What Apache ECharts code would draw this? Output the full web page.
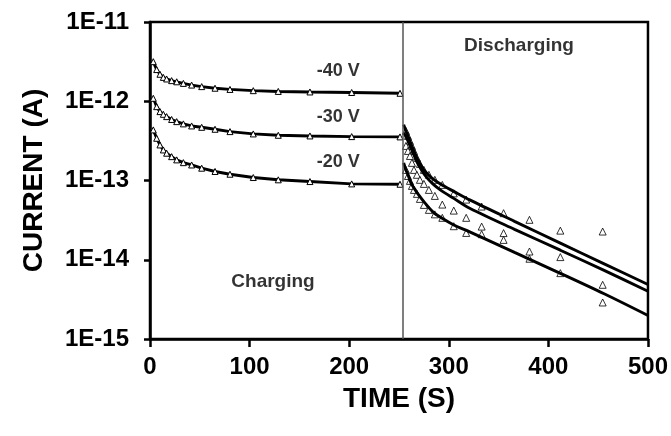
<!DOCTYPE html>
<html><head><meta charset="utf-8">
<script src="https://cdn.jsdelivr.net/npm/echarts@6/dist/echarts.min.js"></script>
<style>html,body{margin:0;padding:0;background:#fff}#c{width:671px;height:436px}</style>
</head><body><div id="c"></div>
<script>
// ---- data (time in s, current in A) ----
const chargeT = [3.3, 6.7, 10, 13.4, 16.7, 21.7, 26.8, 33.5, 41.8, 51.9, 65.3, 80.3, 103.7, 128.8, 160.6, 202.5, 251];
const charge40 = [3.16e-12, 2.51e-12, 2.19e-12, 2.00e-12, 1.91e-12, 1.82e-12, 1.76e-12, 1.68e-12, 1.60e-12, 1.53e-12, 1.46e-12, 1.41e-12, 1.36e-12, 1.33e-12, 1.31e-12, 1.29e-12, 1.26e-12];
const charge30 = [1.09e-12, 8.55e-13, 7.40e-13, 6.84e-13, 6.40e-13, 5.89e-13, 5.53e-13, 5.18e-13, 4.88e-13, 4.69e-13, 4.43e-13, 4.14e-13, 3.87e-13, 3.72e-13, 3.65e-13, 3.58e-13, 3.55e-13];
const charge20 = [4.35e-13, 3.41e-13, 2.81e-13, 2.43e-13, 2.21e-13, 2.00e-13, 1.82e-13, 1.68e-13, 1.57e-13, 1.43e-13, 1.30e-13, 1.20e-13, 1.09e-13, 1.02e-13, 9.70e-14, 9.06e-14, 8.97e-14];

const fitT = [254.7, 257, 259, 262, 265, 269, 276, 284, 292.5, 305, 321, 366, 412, 456, 500];
const fit40 = [5.07e-13, 4.22e-13, 3.65e-13, 2.89e-13, 2.36e-13, 1.82e-13, 1.31e-13, 1.05e-13, 8.88e-14, 7.29e-14, 5.69e-14, 3.05e-14, 1.62e-14, 8.88e-15, 4.87e-15];
const fit30 = [4.02e-13, 3.55e-13, 3.16e-13, 2.58e-13, 2.10e-13, 1.62e-13, 1.17e-13, 9.06e-14, 7.46e-14, 5.95e-14, 4.47e-14, 2.42e-14, 1.32e-14, 7.35e-15, 4.01e-15];
const fit20 = [1.67e-13, 1.36e-13, 1.18e-13, 9.33e-14, 8.07e-14, 6.78e-14, 5.22e-14, 4.02e-14, 3.38e-14, 2.75e-14, 2.25e-14, 1.24e-14, 6.74e-15, 3.72e-15, 1.98e-15];

const disT = [257, 259, 261, 263, 265, 268, 271, 275, 280, 286, 293.5, 305, 317.5, 333, 355, 381, 412, 454.5];
const dis40 = [4.22e-13, 3.65e-13, 3.16e-13, 2.73e-13, 2.36e-13, 1.93e-13, 1.62e-13, 1.36e-13, 1.18e-13, 1.02e-13, 8.80e-14, 6.88e-14, 5.74e-14, 4.69e-14, 3.87e-14, 3.19e-14, 2.33e-14, 2.27e-14];
const dis30 = [2.73e-13, 2.36e-13, 2.04e-13, 1.67e-13, 1.36e-13, 1.18e-13, 1.02e-13, 9.06e-14, 7.61e-14, 6.39e-14, 4.97e-14, 4.17e-14, 3.38e-14, 2.62e-14, 2.17e-14, 1.27e-14, 1.08e-14, 4.83e-15];
const dis20 = [1.36e-13, 1.14e-13, 9.89e-14, 8.55e-14, 7.61e-14, 6.78e-14, 5.86e-14, 4.92e-14, 4.26e-14, 3.74e-14, 3.38e-14, 2.65e-14, 2.18e-14, 2.10e-14, 1.78e-14, 1.03e-14, 6.78e-15, 2.89e-15];

const switchTime = 254;
const xTicks = [0, 100, 200, 300, 400, 500];
const yTicks = [1e-15, 1e-14, 1e-13, 1e-12, 1e-11];
const annotations = [
  {text: '-40 V', t: 189, v: 2.38e-12, size: 18},
  {text: '-30 V', t: 189, v: 6.25e-13, size: 18},
  {text: '-20 V', t: 189, v: 1.72e-13, size: 18},
  {text: 'Charging', t: 123.5, v: 5.26e-15, size: 19},
  {text: 'Discharging', t: 370.5, v: 4.98e-12, size: 19}
];

const FONT = '"Liberation Sans", Arial, sans-serif';
const zip = (xs, ys) => xs.map((x, i) => [x, ys[i]]);

const markerStyle = {color: '#fff', borderColor: '#000', borderWidth: 1};
function chargeSeries(vals) {
  return {type: 'line', data: zip(chargeT, vals), symbol: 'triangle', symbolSize: 6, showAllSymbol: true,
    itemStyle: markerStyle, lineStyle: {color: '#000', width: 2.9}, z: 3, silent: true};
}
function fitSeries(vals) {
  return {type: 'line', data: zip(fitT, vals), symbol: 'none', smooth: 0.3,
    lineStyle: {color: '#000', width: 2.9}, z: 3, silent: true};
}
function disSeries(vals) {
  return {type: 'scatter', data: zip(disT, vals), symbol: 'triangle', symbolSize: 7,
    itemStyle: markerStyle, z: 2, silent: true};
}

const chart = echarts.init(document.getElementById('c'), null, {renderer: 'canvas'});
const series = [
  chargeSeries(charge40), chargeSeries(charge30), chargeSeries(charge20),
  disSeries(dis40), disSeries(dis30), disSeries(dis20),
  fitSeries(fit40), fitSeries(fit30), fitSeries(fit20),
  {type: 'scatter', data: annotations.map(a => ({value: [a.t, a.v], label: {formatter: a.text, fontSize: a.size}})),
   symbolSize: 0, silent: true, z: 5,
   label: {show: true, position: 'inside', color: '#000', fontFamily: FONT, fontWeight: 'bold'},
   markLine: {silent: true, symbol: 'none', label: {show: false},
     lineStyle: {color: '#555', width: 1.5, type: 'solid'}, data: [{xAxis: switchTime}]}}
];

chart.setOption({
  animation: false,
  backgroundColor: '#fff',
  grid: {left: 150, right: 23, top: 22, bottom: 97, show: true, borderColor: '#000', borderWidth: 2.5, backgroundColor: 'transparent'},
  xAxis: {
    type: 'value', min: xTicks[0], max: xTicks[xTicks.length - 1], interval: 100,
    name: 'TIME (S)', nameLocation: 'middle', nameGap: 46,
    nameTextStyle: {fontFamily: FONT, fontWeight: 'bold', fontSize: 28, color: '#000'},
    axisLine: {lineStyle: {color: '#000', width: 2.5}},
    axisTick: {length: 8, lineStyle: {color: '#000', width: 2.5}},
    axisLabel: {margin: 16, fontFamily: FONT, fontWeight: 'bold', fontSize: 24, color: '#000'},
    splitLine: {show: false}
  },
  yAxis: {
    type: 'log', logBase: 10, min: yTicks[0], max: yTicks[yTicks.length - 1],
    name: 'CURRENT (A)', nameLocation: 'middle', nameGap: 102, nameRotate: 90,
    nameTextStyle: {fontFamily: FONT, fontWeight: 'bold', fontSize: 28, color: '#000'},
    axisLine: {lineStyle: {color: '#000', width: 2.5}},
    axisTick: {length: 6, lineStyle: {color: '#000', width: 2.5}},
    axisLabel: {margin: 21, fontFamily: FONT, fontWeight: 'bold', fontSize: 24, color: '#000',
      formatter: v => '1E' + Math.round(Math.log10(v))},
    splitLine: {show: false}, minorTick: {show: false}
  },
  series: series
});
</script></body></html>
